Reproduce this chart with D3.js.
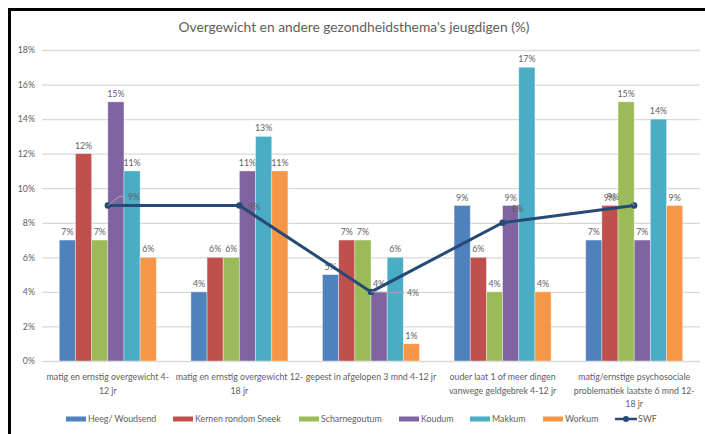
<!DOCTYPE html>
<html><head><meta charset="utf-8">
<script src="https://cdn.jsdelivr.net/npm/d3@7"></script>
<style>body{margin:0;background:#fff;} text{font-family:"Lato","Liberation Sans",Arial,sans-serif;}</style>
</head><body><svg id="c" width="705" height="434"></svg>
<script>
const categories = [
  ["matig en ernstig overgewicht 4-", "12 jr"],
  ["matig en ernstig overgewicht 12-", "18 jr"],
  ["gepest in afgelopen 3 mnd 4-12 jr"],
  ["ouder laat 1 of meer dingen", "vanwege geldgebrek 4-12 jr"],
  ["matig/ernstige psychosociale", "problematiek laatste 6 mnd 12-", "18 jr"]
];
const seriesNames = ["Heeg/ Woudsend", "Kernen rondom Sneek", "Scharnegoutum", "Koudum", "Makkum", "Workum"];
const heeg = [7, 4, 5, 9, 7];
const kernen = [12, 6, 7, 6, 9];
const scharnegoutum = [7, 6, 7, 4, 15];
const koudum = [15, 11, 4, 9, 7];
const makkum = [11, 13, 6, 17, 14];
const workum = [6, 11, 1, 4, 9];
const swf = [9, 9, 4, 8, 9];
const yTicks = [0, 2, 4, 6, 8, 10, 12, 14, 16, 18];
const colors = ["#4f81bd", "#c0504d", "#9bbb59", "#8064a2", "#4bacc6", "#f79646"];
const lineColor = "#254a76";

const barSeries = [heeg, kernen, scharnegoutum, koudum, makkum, workum];
const svg = d3.select("#c");
const textCol = "#606060";

// frame
svg.append("rect").attr("x", 8).attr("y", 8).attr("width", 697).attr("height", 3).attr("fill", "#000");
svg.append("rect").attr("x", 8).attr("y", 8).attr("width", 3).attr("height", 426).attr("fill", "#000");

svg.append("text").attr("x", 354).attr("y", 32).attr("text-anchor", "middle")
  .attr("font-size", 13.8).attr("fill", textCol).text("Overgewicht en andere gezondheidsthema's jeugdigen (%)");

const x0 = d3.scaleBand().domain(d3.range(categories.length)).range([42, 700]).paddingInner(0.263).paddingOuter(0.1315);
const x1 = d3.scaleBand().domain(d3.range(seriesNames.length)).range([0, x0.bandwidth()]);
const y = d3.scaleLinear().domain([0, 18]).range([361, 50]);

// grid
const yAxis = d3.axisLeft(y).tickValues(yTicks).tickSize(-(700 - 42)).tickFormat(d => d + "%");
const ga = svg.append("g").attr("transform", "translate(42,0)").call(yAxis);
ga.select(".domain").remove();
ga.selectAll(".tick line").attr("stroke", "#d9d9d9").attr("stroke-width", 1.3);
ga.selectAll(".tick text").attr("fill", textCol).attr("font-size", 8.8).attr("x", -7)
  .style("font-family", "Lato, 'Liberation Sans', Arial, sans-serif");

// bars
barSeries.forEach((vals, si) => {
  const g = svg.append("g");
  g.selectAll("rect").data(vals).enter().append("rect")
    .attr("x", (d, i) => x0(i) + x1(si))
    .attr("y", d => y(d))
    .attr("width", x1.bandwidth())
    .attr("height", d => y(0) - y(d))
    .attr("fill", colors[si])
    .attr("stroke", "#ffffff").attr("stroke-opacity", 0.45).attr("stroke-width", 0.8);
  g.selectAll("text").data(vals).enter().append("text")
    .attr("x", (d, i) => x0(i) + x1(si) + x1.bandwidth() / 2)
    .attr("y", d => y(d) - 5)
    .attr("text-anchor", "middle").attr("font-size", 8.8).attr("fill", textCol)
    .text(d => d + "%");
});

// SWF line
const cx = i => x0(i) + x0.bandwidth() / 2;
const line = d3.line().x((d, i) => cx(i)).y(d => y(d));
svg.append("path").datum(swf).attr("d", line).attr("fill", "none")
  .attr("stroke", lineColor).attr("stroke-width", 3);
svg.selectAll(".pt").data(swf).enter().append("circle")
  .attr("cx", (d, i) => cx(i)).attr("cy", d => y(d)).attr("r", 3.2).attr("fill", lineColor);

// SWF labels (offsets approximate the reference's placement)
const swfLabelOff = [[26, -9], [15, 1], [42, 1], [15, -14], [-21, -9]];
const leaders = [true, false, true, false, true];
swf.forEach((d, i) => {
  const px = cx(i), py = y(d);
  const lx = px + swfLabelOff[i][0], ly = py + swfLabelOff[i][1];
  if (leaders[i]) {
    const ex = swfLabelOff[i][0] > 0 ? lx - 9 : lx + 9;
    svg.append("polyline")
      .attr("points", i === 2 ? `${px},${py} ${ex},${ly}` : `${px},${py} ${px + (ex - px) * 0.65},${ly} ${ex},${ly}`)
      .attr("fill", "none").attr("stroke", "#a6a6a6").attr("stroke-width", 1);
  }
  svg.append("text").attr("x", lx).attr("y", ly + 3).attr("text-anchor", "middle")
    .attr("font-size", 8.8).attr("fill", textCol).text(d + "%");
});

// category labels
categories.forEach((lines, i) => {
  lines.forEach((t, li) => {
    svg.append("text").attr("x", cx(i)).attr("y", 380 + li * 13.5).attr("text-anchor", "middle")
      .attr("font-size", 8.8).attr("fill", textCol).text(t);
  });
});

// legend
const legX = [66, 173, 299, 399, 470, 543];
seriesNames.forEach((n, i) => {
  svg.append("rect").attr("x", legX[i]).attr("y", 416.5).attr("width", 20).attr("height", 5).attr("fill", colors[i]);
  svg.append("text").attr("x", legX[i] + 22).attr("y", 422).attr("font-size", 8.8).attr("fill", textCol).text(n);
});
svg.append("line").attr("x1", 615).attr("x2", 637).attr("y1", 419).attr("y2", 419).attr("stroke", lineColor).attr("stroke-width", 2.5);
svg.append("circle").attr("cx", 626).attr("cy", 419).attr("r", 3).attr("fill", lineColor);
svg.append("text").attr("x", 638).attr("y", 422).attr("font-size", 8.8).attr("fill", textCol).text("SWF");
</script></body></html>
